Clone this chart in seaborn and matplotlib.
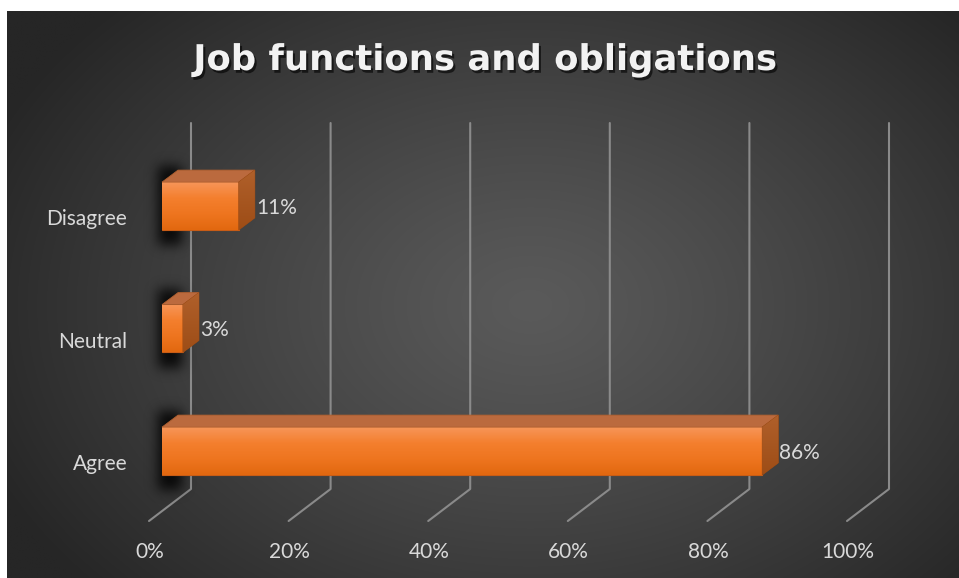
import numpy as np
import pandas as pd
import seaborn as sns
import matplotlib.pyplot as plt
from matplotlib import patheffects as pe
from matplotlib.patches import Polygon
from matplotlib.lines import Line2D
from matplotlib.colors import LinearSegmentedColormap
from matplotlib.transforms import IdentityTransform, ScaledTranslation

# ---- data -------------------------------------------------------------
categories = ["Disagree", "Neutral", "Agree"]
shares = [0.11, 0.03, 0.86]
value_labels = ["11%", "3%", "86%"]
tick_values = [0.0, 0.2, 0.4, 0.6, 0.8, 1.0]
tick_labels = ["0%", "20%", "40%", "60%", "80%", "100%"]
title = "Job functions and obligations"

df = pd.DataFrame({"category": categories, "share": shares})

# ---- figure -----------------------------------------------------------
W, H = 959, 578
sns.set_theme(style="white")
plt.rcParams["font.family"] = ["Lato", "DejaVu Sans"]
fig = plt.figure(figsize=(W / 100, H / 100), dpi=100, facecolor="white")

TEXT = "#d9d9d9"
GRID = "#8a8a8a"

# radial gradient chart area
bg = fig.add_axes([7 / W, 0, (W - 7) / W, (H - 11) / H], zorder=0)
bg.set_axis_off()
ny, nx = 400, 700
yy, xx = np.mgrid[0:1:ny * 1j, 0:1:nx * 1j]
r = np.sqrt(((xx - 0.55) / 0.62) ** 2 + ((yy - 0.52) / 0.75) ** 2)
r = np.clip(r, 0, 1)
shade = 0x5a - (0x5a - 0x26) * r ** 1.2
bg.imshow(np.dstack([shade / 255] * 3), aspect="auto", extent=(0, 1, 0, 1),
          interpolation="bilinear")
bg.set_xlim(0, 1)
bg.set_ylim(0, 1)

# overlay in pixel coordinates (origin top-left) for walls / floor
deco = fig.add_axes([0, 0, 1, 1], zorder=1)
deco.set_axis_off()
deco.set_xlim(0, W)
deco.set_ylim(H, 0)
deco.patch.set_alpha(0)

# main axes: bar plane
ax = fig.add_axes([162 / W, (H - 573.5) / H, 698 / W, 490 / H], zorder=2)
ax.patch.set_alpha(0)
sns.barplot(data=df, x="share", y="category", order=categories, orient="h",
            color="#f47d2a", saturation=1, width=0.39, ax=ax,
            edgecolor="#c85c16", linewidth=0.8)
ax.set_xlim(0, 1)
ax.set_ylim(3, -1)
for s in ax.spines.values():
    s.set_visible(False)
ax.set_xticks([])
ax.set_xlabel("")
ax.set_ylabel("")
ax.tick_params(axis="y", length=0, pad=25, labelsize=15, labelcolor=TEXT)
for lab in ax.get_yticklabels():
    lab.set_transform(lab.get_transform() +
                      ScaledTranslation(0, -0.11, fig.dpi_scale_trans))

# depth geometry (pixels)
DX, DY = 16, 12            # bar depth
WALL_DX = 29               # bar plane -> back wall
FRONT_DX = 13              # bar plane -> front edge of floor
TOP_Y = 123
FLOOR_BACK_Y = 489


def to_px(xv, yv):
    x, y = ax.transData.transform((xv, yv))
    return x, H - y


# gridlines on back wall + floor
for v, lab in zip(tick_values, tick_labels):
    bx, _ = to_px(v, 0)
    wx = bx + WALL_DX
    fx = bx - FRONT_DX
    deco.add_line(Line2D([wx, wx, fx], [TOP_Y, FLOOR_BACK_Y, FLOOR_BACK_Y + 32],
                         color=GRID, lw=1.5))
    deco.text(fx + 1, 552, lab, ha="center", va="center", fontsize=15,
              color=TEXT)


def blurred_box(h, w, pad, sigma):
    img = np.zeros((h + 2 * pad, w + 2 * pad))
    img[pad:pad + h, pad:pad + w] = 1
    k = np.arange(-3 * sigma, 3 * sigma + 1)
    g = np.exp(-k ** 2 / (2 * sigma ** 2))
    g /= g.sum()
    img = np.apply_along_axis(lambda m: np.convolve(m, g, mode="same"), 0, img)
    img = np.apply_along_axis(lambda m: np.convolve(m, g, mode="same"), 1, img)
    return img


front_cmap = LinearSegmentedColormap.from_list(
    "front", ["#f79558", "#f47f2e", "#ee751f", "#e2680f"])
side_cmap = LinearSegmentedColormap.from_list("side", ["#b0602b", "#9a4912"])

for patch, txt in zip(ax.patches, value_labels):
    x0v, y0v = patch.get_x(), patch.get_y()
    wv, hv = patch.get_width(), patch.get_height()
    # display coords (origin bottom-left)
    (dx0, dy_top), = ax.transData.transform([(x0v, y0v)])
    (dx1, dy_bot), = ax.transData.transform([(x0v + wv, y0v + hv)])

    # soft shadow peeking out at the left end of the bar
    px0 = dx0 - 4
    py0 = H - dy_top - DY - 4
    bw = 24
    bh = int(dy_top - dy_bot + DY + 20)
    pad = 18
    alpha = blurred_box(bh, bw, pad, 6) * 0.85
    rgba = np.zeros(alpha.shape + (4,))
    rgba[..., 3] = alpha
    deco.imshow(rgba, extent=(px0 - pad, px0 + bw + pad, py0 + bh + pad, py0 - pad),
                interpolation="bilinear", zorder=3)

    # gradient front face
    grad = np.linspace(0, 1, 64).reshape(-1, 1)
    im = ax.imshow(grad, cmap=front_cmap, aspect="auto",
                   extent=(x0v, x0v + wv, y0v + hv, y0v), zorder=2.5,
                   interpolation="bilinear")
    im.set_clip_path(patch)
    patch.set_zorder(2)

    # top face
    top = Polygon([(dx0, dy_top), (dx1, dy_top), (dx1 + DX, dy_top + DY),
                   (dx0 + DX, dy_top + DY)], closed=True,
                  transform=IdentityTransform(), facecolor="#bb6a3e",
                  edgecolor="#b0602f", lw=0.6, clip_on=False, zorder=2.6)
    ax.add_patch(top)
    # side face
    side = Polygon([(dx1, dy_top), (dx1 + DX, dy_top + DY),
                    (dx1 + DX, dy_bot + DY), (dx1, dy_bot)], closed=True,
                   transform=IdentityTransform(), facecolor="#a8551e",
                   edgecolor="#9a4a14", lw=0.6, clip_on=False, zorder=2.6)
    ax.add_patch(side)
    sim = ax.imshow(grad, cmap=side_cmap, aspect="auto",
                    extent=(x0v + wv, x0v + wv + 0.03, y0v + hv + 0.1, y0v - 0.1),
                    zorder=2.7, interpolation="bilinear")
    sim.set_clip_path(side)
    ax.set_xlim(0, 1)
    ax.set_ylim(3, -1)

    # value label
    ax.annotate(txt, (x0v + wv, y0v + hv / 2), xytext=(DX + 1, -2),
                textcoords="offset pixels", ha="left", va="center",
                fontsize=15, color=TEXT, zorder=4)

# title
deco.text(485, 60, title, ha="center", va="center", fontsize=25.5,
          fontweight="bold", color="#f2f2f2", family=["DejaVu Sans"],
          path_effects=[pe.SimplePatchShadow(offset=(1.5, -2), shadow_rgbFace="black",
                                             alpha=0.6),
                        pe.Normal()])

fig.savefig("out.png", dpi=100, facecolor="white")
